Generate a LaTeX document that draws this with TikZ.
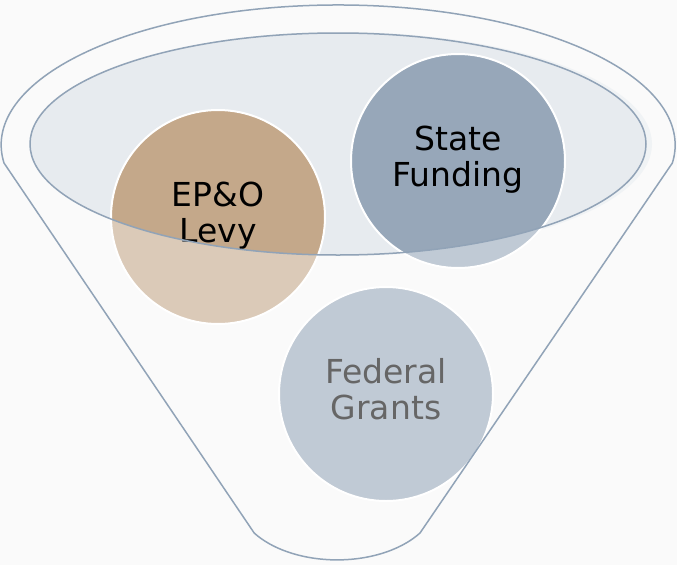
\documentclass[tikz,border=0pt]{standalone}
\usepackage{fontspec}
\setmainfont{DejaVu Sans}
\definecolor{bgC}{HTML}{F7F7F7}
\definecolor{ellC}{HTML}{E7EBEF}
\definecolor{tanC}{HTML}{C4A88A}
\definecolor{blueC}{HTML}{97A7B9}
\definecolor{lineC}{HTML}{91A3B7}
\begin{document}
\begin{tikzpicture}[x=1pt,y=1pt,
  bub/.style={circle, minimum size=214pt, inner sep=0pt, draw=white, line width=2pt,
    fill=#1, align=center, font=\fontsize{33}{36.5}\selectfont, text=black},
  rim/.style={draw=lineC, line width=1.5pt, line join=round}]
\useasboundingbox (0,0) rectangle (677,-565);
\fill[bgC] (0,0) rectangle (677,-565);
\coordinate (ec) at (338,-144);
\coordinate (fc) at (341,-144);
\fill[ellC] (fc) ellipse [x radius=311, y radius=112];
\node[bub=tanC] (levy) at (218,-217) {\strut EP\&O\\\strut Levy};
\node[bub=blueC] (state) at (458,-161) {\strut State\\\strut Funding};
\node[bub=blueC] (fed) at (386,-394) {\strut Federal\\\strut Grants};
\fill[white, fill opacity=0.4, even odd rule] (0,0) rectangle (677,-565)
  (ec) ellipse [x radius=308, y radius=111];
\draw[rim] (ec) ellipse [x radius=308, y radius=111];
\draw[rim] (4,-163) arc[start angle=187.4, end angle=-7.4, x radius=337, y radius=140]
  -- (420,-533) arc[start angle=-34, end angle=-146, x radius=100, y radius=61]
  -- cycle;
\end{tikzpicture}
\end{document}
